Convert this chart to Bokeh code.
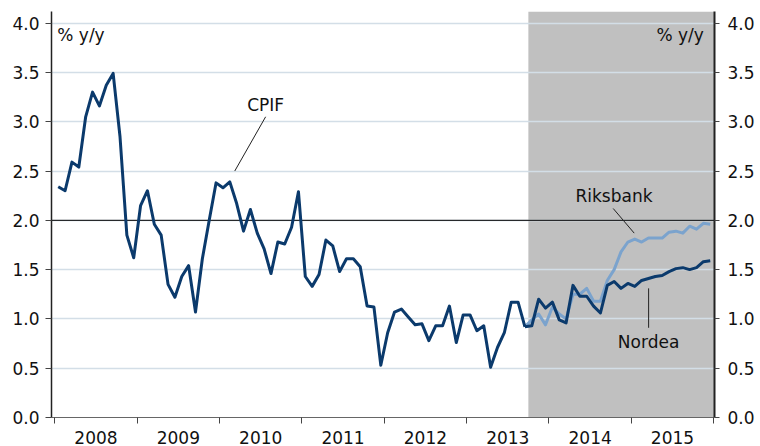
from bokeh.plotting import figure
from bokeh.models import Range1d, LinearAxis, FixedTicker, Span, BoxAnnotation, Label
from bokeh.embed import file_html
from bokeh.resources import INLINE

# Monthly CPIF outcome, Jan 2008 .. Sep 2013 (% y/y)
cpif = [2.34, 2.30, 2.59, 2.54, 3.05, 3.30, 3.16, 3.37, 3.49, 2.85, 1.85, 1.62,
        2.15, 2.30, 1.96, 1.85, 1.35, 1.22, 1.43, 1.54, 1.07, 1.61, 2.00, 2.38,
        2.33, 2.39, 2.17, 1.89, 2.11, 1.87, 1.71, 1.46, 1.78, 1.76, 1.93, 2.29,
        1.43, 1.33, 1.45, 1.80, 1.74, 1.48, 1.61, 1.61, 1.53, 1.13, 1.12, 0.53,
        0.86, 1.07, 1.10, 1.02, 0.94, 0.95, 0.78, 0.93, 0.93, 1.13, 0.76, 1.04,
        1.04, 0.88, 0.93, 0.51, 0.71, 0.86, 1.17, 1.17, 0.92]
# Forecasts, Oct 2013 .. Dec 2015
nordea = [0.93, 1.20, 1.11, 1.17, 0.99, 0.96, 1.34, 1.23, 1.23, 1.13, 1.06, 1.34,
          1.38, 1.31, 1.36, 1.33, 1.39, 1.41, 1.43, 1.44, 1.48, 1.51, 1.52, 1.50,
          1.52, 1.58, 1.59]
riksbank = [0.99, 1.05, 0.94, 1.12, 1.05, 1.00, 1.25, 1.25, 1.31, 1.18, 1.18, 1.39,
            1.50, 1.68, 1.78, 1.81, 1.78, 1.82, 1.82, 1.82, 1.88, 1.89, 1.87, 1.94,
            1.91, 1.97, 1.96]
start_year = 2008
years = [2008, 2009, 2010, 2011, 2012, 2013, 2014, 2015]
y_ticks = [0.0, 0.5, 1.0, 1.5, 2.0, 2.5, 3.0, 3.5, 4.0]
forecast_start = 2013.75

def month_x(i):
    return start_year + (i + 0.5) / 12.0

x_cpif = [month_x(i) for i in range(len(cpif))]
n0 = len(cpif) - 1
x_fc = [month_x(n0 + i) for i in range(len(nordea) + 1)]
y_nordea = [cpif[-1]] + nordea
y_riks = [cpif[-1]] + riksbank

FONT = "DejaVu Sans"
FS = "17px"
DARK = "#0b3a6c"
LIGHT = "#7ba3cd"

p = figure(width=760, height=446, output_backend="svg", toolbar_location=None,
           x_range=Range1d(2007.96, 2016.01), y_range=Range1d(0, 4.118),
           min_border_left=51, min_border_top=11, min_border_right=46, min_border_bottom=26,
           background_fill_color="white", border_fill_color="white")
p.outline_line_color = None
p.xgrid.visible = False

ytick = FixedTicker(ticks=y_ticks)
p.ygrid.ticker = ytick
p.ygrid.grid_line_color = "#d3dee7"
p.ygrid.grid_line_width = 1.5

# shaded forecast area
p.add_layout(BoxAnnotation(left=forecast_start, fill_color="#c0c0c0", fill_alpha=1.0,
                           line_color=None, level="image"))
p.add_layout(Span(location=2.0, dimension="width", line_color="black", line_width=1,
                  level="underlay"))

# lines
p.line(x_fc, y_riks, line_color=LIGHT, line_width=3, line_join="round")
p.line(x_cpif, cpif, line_color=DARK, line_width=3, line_join="round")
p.line(x_fc, y_nordea, line_color=DARK, line_width=3, line_join="round")

# axes
yfmt = {t: f"{t:.1f}" for t in y_ticks}
yax = p.yaxis[0]
yax.ticker = ytick
yax.major_label_overrides = yfmt
yax.minor_tick_line_color = None
yax.major_tick_out = 6
yax.major_tick_in = 0
yax.major_label_standoff = 6
yax.axis_line_color = "#222222"
yax.axis_line_width = 1.5
yax.major_tick_line_color = "#444444"
yax.major_label_text_font = FONT
yax.major_label_text_font_size = FS
yax.major_label_text_color = "#111111"

rax = LinearAxis(ticker=FixedTicker(ticks=y_ticks), major_label_overrides=yfmt)
rax.minor_tick_line_color = None
rax.major_tick_out = 5
rax.major_tick_in = 0
rax.major_label_standoff = 8
rax.axis_line_color = "#222222"
rax.axis_line_width = 2
rax.major_tick_line_color = "#444444"
rax.major_label_text_font = FONT
rax.major_label_text_font_size = FS
rax.major_label_text_color = "#111111"
p.add_layout(rax, "right")

xax = p.xaxis[0]
xax.ticker = FixedTicker(ticks=[y + 0.5 for y in years],
                         minor_ticks=years + [years[-1] + 1])
xax.major_label_overrides = {y + 0.5: str(y) for y in years}
xax.major_tick_line_color = None
xax.major_tick_out = 0
xax.major_tick_in = 0
xax.minor_tick_out = 6
xax.minor_tick_in = 0
xax.minor_tick_line_color = "#444444"
xax.major_label_standoff = 7
xax.axis_line_color = "#666666"
xax.major_label_text_font = FONT
xax.major_label_text_font_size = FS
xax.major_label_text_color = "#111111"

# annotations
def lab(x, y, text, align="center"):
    p.add_layout(Label(x=x, y=y, text=text, text_font=FONT, text_font_size=FS,
                       text_color="#111111", text_align=align, text_baseline="middle"))

lab(2008.03, 3.88, "% y/y", "left")
lab(2015.88, 3.88, "% y/y", "right")
lab(2010.56, 3.17, "CPIF")
lab(2014.79, 2.25, "Riksbank")
lab(2015.21, 0.77, "Nordea")

p.segment(x0=[2010.56, 2014.78, 2015.21], y0=[3.05, 2.12, 1.31],
          x1=[2010.185, 2015.035, 2015.21], y1=[2.50, 1.87, 0.91],
          line_color="#222222", line_width=1)

open("out.html", "w").write(file_html(p, INLINE))
